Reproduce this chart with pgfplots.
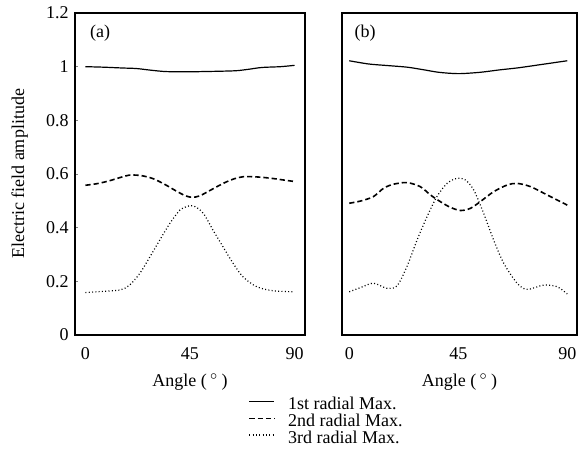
\documentclass[border=0pt]{standalone}
\usepackage{pgfplots}
\pgfplotsset{compat=1.18}
\usepackage{fontspec}
\setmainfont{Liberation Serif}

\pgfplotsset{
  panel/.style={
    scale only axis, height=161pt,
    ymin=0, ymax=1.2,
    axis line style={line width=0.6pt},
    tick align=inside,
    xtick=\empty,
    extra x ticks={0,45,90},
    extra x tick style={major tick length=0pt, xticklabel style={yshift=-3pt}},
    xtick pos=bottom,
    minor tick length=1.2pt, major tick length=1.6pt,
    /pgf/number format/assume math mode=true,
    xlabel={Angle (\,$^{\circ}$\,)},
    xlabel style={at={(axis description cs:0.5,-0.146)}, anchor=center},
  },
  s1/.style={black, solid, line width=0.6pt},
  s2/.style={black, dash pattern=on 2.6pt off 1.5pt, line width=0.8pt},
  s3/.style={black, dash pattern=on 0.5pt off 1.15pt, line width=0.6pt},
}

\begin{document}
\fontsize{9}{10}\selectfont
\begin{tikzpicture}
\begin{axis}[panel, name=a,
    width=115pt, xmin=-4.5, xmax=94.5,
    minor xtick={4.5,13.5,22.5,31.5,40.5,49.5,58.5,67.5,76.5,85.5},
    ytick={0,0.2,...,1.2}, ytick pos=left,
    ylabel={Electric field amplitude},
    ylabel style={at={(axis description cs:-0.24,0.5)}, anchor=center},
    legend style={at={(rel axis cs:0.755,-0.195)}, anchor=north west,
      draw=none, fill=none, inner sep=0pt, outer sep=0pt,
      row sep=0.3pt, column sep=6.5pt,
      nodes={inner sep=0pt, text height=6pt, text depth=2pt}},
    legend cell align=left,
    legend image code/.code={\draw[#1] (0pt,2pt) -- (12.5pt,2pt);},
  ]
\addplot[s1, smooth] coordinates {
  (0,1.0) (8,0.998) (16,0.995) (22,0.993) (28,0.987) (34,0.982) (40,0.981)
  (46,0.981) (52,0.982) (58,0.983) (65,0.985) (70,0.99) (76,0.997) (84,1.0) (90,1.005)};
\addlegendentry{1st radial Max.}
\addplot[s2, smooth] coordinates {
  (0,0.558) (5,0.564) (10,0.574) (15,0.587) (19,0.596) (24,0.594) (29,0.583)
  (34,0.562) (39,0.537) (43,0.519) (46,0.513) (49,0.518) (52,0.531) (56,0.55)
  (60,0.568) (64,0.582) (68,0.590) (74,0.589) (80,0.584) (85,0.578) (90,0.572)};
\addlegendentry{2nd radial Max.}
\addplot[s3, smooth] coordinates {
  (0,0.158) (8,0.163) (15,0.168) (19,0.186) (23.5,0.231) (27.8,0.292) (32,0.354)
  (36.4,0.417) (40.7,0.466) (43.5,0.478) (46.3,0.482) (50.6,0.455) (54.9,0.391)
  (59.2,0.329) (63.5,0.268) (67.8,0.217) (73.7,0.18) (80.7,0.165) (90,0.161)};
\addlegendentry{3rd radial Max.}
\node[anchor=center] at (rel axis cs:0.109,0.938) {(a)};
\end{axis}

\begin{axis}[panel, at={(a.south east)}, anchor=south west, xshift=18.5pt,
    width=117.5pt, xmin=-3, xmax=94,
    minor xtick={5.82,14.64,23.45,32.27,41.09,49.91,58.73,67.55,76.36,85.18},
    ytick=\empty,
  ]
\addplot[s1, smooth] coordinates {
  (0,1.022) (8,1.01) (16,1.004) (24,0.998) (31,0.988) (37,0.979) (45,0.974)
  (54,0.979) (62,0.988) (70,0.996) (80,1.009) (90,1.022)};
\addplot[s2, smooth] coordinates {
  (0,0.491) (5,0.5) (10,0.516) (14.2,0.547) (18.3,0.562) (23.8,0.568) (29.3,0.553)
  (33.5,0.522) (37.6,0.497) (41.7,0.476) (45.9,0.464) (50,0.472) (54.1,0.497)
  (59.6,0.534) (65.2,0.559) (69.3,0.565) (74.8,0.553) (81.7,0.522) (90,0.484)};
\addplot[s3, smooth] coordinates {
  (0,0.161) (5,0.178) (10,0.193) (15.6,0.174) (19.7,0.183) (23.8,0.255) (28,0.354)
  (32.1,0.441) (36.2,0.516) (40.4,0.565) (44.5,0.584) (47.9,0.578) (51.4,0.54)
  (55.5,0.453) (59.6,0.354) (63.8,0.267) (69.3,0.193) (73.4,0.17) (80.3,0.186)
  (85.8,0.18) (90,0.153)};
\node[anchor=center] at (rel axis cs:0.098,0.938) {(b)};
\end{axis}
\path (a.south west) ++(-37.5pt,-63pt) rectangle ++(293.5pt,230.5pt);
\end{tikzpicture}
\end{document}
